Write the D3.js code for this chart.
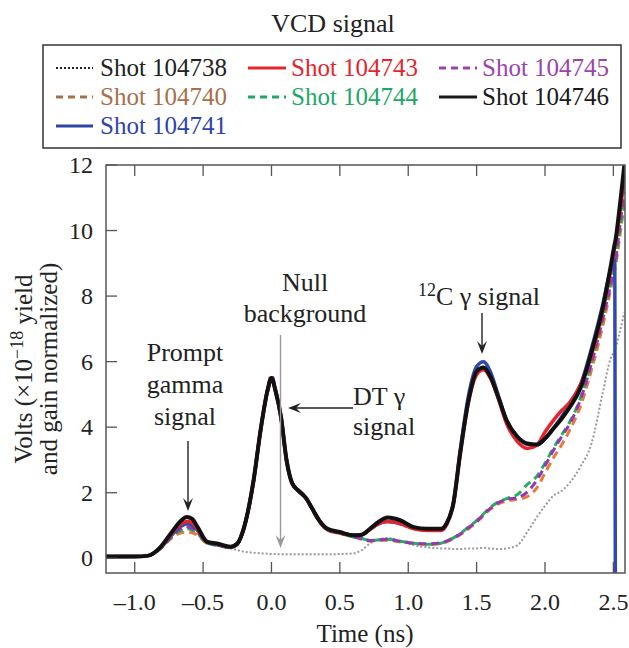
<!DOCTYPE html>
<html>
<head>
<meta charset="utf-8">
<script src="https://cdn.jsdelivr.net/npm/d3@7"></script>
<style>
  body { margin: 0; background: #fff; }
  svg text { font-family: "Liberation Serif", "Times New Roman", serif; fill: #222; }
</style>
</head>
<body>
<svg id="chart" width="629" height="648"></svg>
<script>
// time axis (ns), shared by every shot
const time = [-1.21, -1.0, -0.9, -0.81, -0.72, -0.66, -0.62, -0.58, -0.54, -0.47,
  -0.4, -0.3, -0.25, -0.2, -0.13, -0.08, -0.03, 0.0, 0.03, 0.07,
  0.11, 0.15, 0.2, 0.25, 0.3, 0.35, 0.41, 0.5, 0.6, 0.66,
  0.72, 0.78, 0.85, 0.94, 1.04, 1.14, 1.24, 1.28, 1.33, 1.38,
  1.44, 1.5, 1.55, 1.6, 1.66, 1.72, 1.8, 1.87, 1.94, 2.0,
  2.06, 2.12, 2.18, 2.26, 2.34, 2.42, 2.48, 2.51, 2.515, 2.54, 2.58];

const shot104738 = [0.05, 0.05, 0.08, 0.3, 0.75, 0.95, 1.0, 0.95, 0.8, 0.45,
  0.4, 0.3, 0.25, 0.2, 0.17, 0.15, 0.14, 0.13, 0.13, 0.12,
  0.12, 0.12, 0.12, 0.12, 0.12, 0.12, 0.12, 0.13, 0.15, 0.25,
  0.45, 0.58, 0.62, 0.52, 0.4, 0.33, 0.3, 0.3, 0.28, 0.28,
  0.3, 0.3, 0.32, 0.3, 0.28, 0.3, 0.4, 0.8, 1.25, 1.6,
  1.9, 2.05, 2.3, 2.8, 3.5, 5.0, 6.1, 6.35, 6.4, 6.8, 7.5];

const shot104740 = [0.05, 0.05, 0.08, 0.3, 0.65, 0.78, 0.8, 0.78, 0.7, 0.45,
  0.4, 0.32, 0.42, 0.9, 2.35, 3.85, 5.05, 5.45, 5.05, 4.25,
  2.95, 2.3, 2.05, 1.85, 1.45, 1.1, 0.85, 0.75, 0.65, 0.58,
  0.52, 0.55, 0.55, 0.5, 0.45, 0.42, 0.45, 0.5, 0.6, 0.72,
  0.9, 1.1, 1.3, 1.5, 1.66, 1.75, 1.8, 1.88, 2.15, 2.6,
  3.05, 3.45, 3.9, 4.65, 5.75, 7.05, 8.2, 8.8, 8.9, 9.6, 10.9];

const shot104741 = [0.05, 0.05, 0.08, 0.32, 0.75, 0.98, 1.05, 1.0, 0.85, 0.5,
  0.42, 0.34, 0.44, 0.95, 2.4, 3.9, 5.1, 5.5, 5.1, 4.3,
  3.0, 2.3, 2.05, 1.85, 1.5, 1.15, 0.88, 0.78, 0.7, 0.72,
  0.88, 1.05, 1.12, 1.06, 0.92, 0.87, 0.88, 1.05, 1.7, 3.3,
  4.95, 5.85, 6.0, 5.7, 4.95, 4.2, 3.7, 3.48, 3.45, 3.65,
  3.95, 4.3, 4.7, 5.3, 6.4, 7.7, 8.8, 9.1, -1, -1, -1];

const shot104743 = [0.05, 0.05, 0.08, 0.33, 0.8, 1.05, 1.12, 1.08, 0.88, 0.5,
  0.44, 0.34, 0.44, 0.95, 2.4, 3.9, 5.1, 5.5, 5.1, 4.3,
  3.0, 2.3, 2.05, 1.85, 1.5, 1.15, 0.88, 0.78, 0.7, 0.72,
  0.88, 1.05, 1.12, 1.05, 0.9, 0.85, 0.85, 1.02, 1.65, 3.2,
  4.75, 5.6, 5.75, 5.5, 4.85, 4.1, 3.55, 3.35, 3.45, 3.85,
  4.2, 4.5, 4.75, 5.3, 6.2, 7.5, 8.8, 9.5, 9.6, 10.3, 11.6];

const shot104744 = [0.05, 0.05, 0.08, 0.3, 0.7, 0.85, 0.9, 0.86, 0.75, 0.46,
  0.4, 0.32, 0.42, 0.92, 2.38, 3.88, 5.08, 5.5, 5.08, 4.28,
  2.98, 2.3, 2.05, 1.85, 1.48, 1.12, 0.86, 0.76, 0.65, 0.6,
  0.54, 0.56, 0.58, 0.52, 0.46, 0.43, 0.46, 0.52, 0.62, 0.75,
  0.95, 1.15, 1.35, 1.55, 1.72, 1.82, 1.95, 2.25, 2.5, 2.9,
  3.35, 3.75, 4.15, 4.9, 6.0, 7.3, 8.4, 9.0, 9.1, 9.8, 10.8];

const shot104745 = [0.05, 0.05, 0.08, 0.31, 0.72, 0.9, 0.95, 0.9, 0.78, 0.47,
  0.41, 0.33, 0.43, 0.93, 2.4, 3.92, 5.15, 5.6, 5.15, 4.3,
  3.0, 2.32, 2.08, 1.88, 1.5, 1.13, 0.87, 0.77, 0.66, 0.6,
  0.54, 0.56, 0.58, 0.52, 0.46, 0.44, 0.47, 0.52, 0.62, 0.74,
  0.93, 1.13, 1.33, 1.52, 1.7, 1.8, 1.85, 2.02, 2.38, 2.82,
  3.28, 3.7, 4.1, 4.85, 5.95, 7.25, 8.35, 8.95, 9.05, 9.9, 11.2];

const shot104746 = [0.05, 0.05, 0.08, 0.35, 0.85, 1.15, 1.26, 1.2, 0.95, 0.5,
  0.45, 0.35, 0.45, 0.95, 2.4, 3.9, 5.1, 5.5, 5.1, 4.3,
  3.0, 2.3, 2.05, 1.85, 1.5, 1.15, 0.9, 0.8, 0.7, 0.72,
  0.9, 1.1, 1.24, 1.16, 0.95, 0.9, 0.9, 1.06, 1.67, 3.2,
  4.8, 5.7, 5.82, 5.55, 4.9, 4.2, 3.7, 3.5, 3.47, 3.65,
  3.95, 4.25, 4.6, 5.2, 6.3, 7.6, 8.9, 9.6, 9.7, 10.5, 12.0];

const xTicks = [-1.0, -0.5, 0.0, 0.5, 1.0, 1.5, 2.0, 2.5];
const yTicks = [0, 2, 4, 6, 8, 10, 12];

// drawing order: background traces first, black on top
const series = [
  { name: "Shot 104738", values: shot104738, color: "#9a9a9a", legendColor: "#222", width: 2, dash: "2,2" },
  { name: "Shot 104740", values: shot104740, color: "#e8793e", legendColor: "#a8704a", width: 3, dash: "8,5" },
  { name: "Shot 104744", values: shot104744, color: "#25ad62", legendColor: "#1fa865", width: 3, dash: "8,5" },
  { name: "Shot 104745", values: shot104745, color: "#8e3ab0", legendColor: "#9b44ab", width: 3, dash: "8,5" },
  { name: "Shot 104741", values: shot104741, color: "#2f49b0", legendColor: "#2f45a8", width: 3.5, dash: null },
  { name: "Shot 104743", values: shot104743, color: "#e3262e", legendColor: "#e3262e", width: 3.5, dash: null },
  { name: "Shot 104746", values: shot104746, color: "#111", legendColor: "#1a1a1a", width: 4, dash: null }
];

const legendOrder = [
  ["Shot 104738", "Shot 104743", "Shot 104745"],
  ["Shot 104740", "Shot 104744", "Shot 104746"],
  ["Shot 104741"]
];

const svg = d3.select("#chart");
const margin = { top: 165, right: 4, bottom: 75, left: 106 };
const W = 629, H = 648;

const x = d3.scaleLinear().domain([-1.21, 2.585]).range([margin.left, W - margin.right]);
const y = d3.scaleLinear().domain([-0.45, 12]).range([H - margin.bottom, margin.top]);

svg.append("defs").append("clipPath").attr("id", "plot-clip")
  .append("rect")
  .attr("x", margin.left).attr("y", margin.top)
  .attr("width", W - margin.right - margin.left)
  .attr("height", H - margin.bottom - margin.top);

// title
svg.append("text")
  .attr("x", 333).attr("y", 32)
  .attr("text-anchor", "middle")
  .style("font-size", "26px")
  .text("VCD signal");

// legend
svg.append("rect")
  .attr("x", 43).attr("y", 45).attr("width", 578).attr("height", 103)
  .attr("fill", "none").attr("stroke", "#333").attr("stroke-width", 1.5);

const colX = [[56, 93, 100], [248, 286, 291], [439, 477, 482]];
const rowY = [76, 105, 134];
legendOrder.forEach((row, ri) => {
  row.forEach((name, ci) => {
    const s = series.find(d => d.name === name);
    const g = svg.append("g");
    g.append("line")
      .attr("x1", colX[ci][0]).attr("x2", colX[ci][1])
      .attr("y1", rowY[ri] - 8).attr("y2", rowY[ri] - 8)
      .attr("stroke", s.name === "Shot 104738" ? "#222" : s.legendColor)
      .attr("stroke-width", s.dash === "2,2" ? 2 : 3)
      .attr("stroke-dasharray", s.dash === "2,2" ? "2,2" : (s.dash ? "7,5" : null));
    g.append("text")
      .attr("x", colX[ci][2]).attr("y", rowY[ri])
      .style("font-size", "25px")
      .style("fill", s.legendColor)
      .text(s.name);
  });
});

// curves
const line = d3.line()
  .x(d => x(d[0]))
  .y(d => y(d[1]))
  .curve(d3.curveMonotoneX);

const plot = svg.append("g").attr("clip-path", "url(#plot-clip)");
series.forEach(s => {
  plot.append("path")
    .datum(time.map((t, i) => [t, s.values[i]]))
    .attr("fill", "none")
    .attr("stroke", s.color)
    .attr("stroke-width", s.width)
    .attr("stroke-linejoin", "round")
    .attr("stroke-dasharray", s.dash)
    .attr("d", line);
});

// frame
svg.append("rect")
  .attr("x", margin.left).attr("y", margin.top)
  .attr("width", W - margin.right - margin.left)
  .attr("height", H - margin.bottom - margin.top)
  .attr("fill", "none").attr("stroke", "#555").attr("stroke-width", 1.5);

// inward ticks
const tickLen = 11;
xTicks.forEach(t => {
  svg.append("line").attr("x1", x(t)).attr("x2", x(t))
    .attr("y1", y.range()[0]).attr("y2", y.range()[0] - tickLen)
    .attr("stroke", "#555").attr("stroke-width", 1.3);
  svg.append("line").attr("x1", x(t)).attr("x2", x(t))
    .attr("y1", y.range()[1]).attr("y2", y.range()[1] + tickLen)
    .attr("stroke", "#555").attr("stroke-width", 1.3);
  svg.append("text")
    .attr("x", x(t)).attr("y", 610)
    .attr("text-anchor", "middle")
    .style("font-size", "24px")
    .text(t < 0 ? "\u2013" + Math.abs(t).toFixed(1) : t.toFixed(1));
});
yTicks.forEach(v => {
  svg.append("line").attr("x1", margin.left).attr("x2", margin.left + tickLen)
    .attr("y1", y(v)).attr("y2", y(v))
    .attr("stroke", "#555").attr("stroke-width", 1.3);
  svg.append("text")
    .attr("x", 93).attr("y", y(v) + 8)
    .attr("text-anchor", "end")
    .style("font-size", "24px")
    .text(v);
});

// axis titles
svg.append("text")
  .attr("x", 365).attr("y", 642)
  .attr("text-anchor", "middle")
  .style("font-size", "25px")
  .text("Time (ns)");

const yl1 = svg.append("text")
  .attr("transform", "translate(32,369) rotate(-90)")
  .attr("text-anchor", "middle")
  .style("font-size", "25px");
yl1.append("tspan").text("Volts (\u00d710");
yl1.append("tspan").attr("dy", -9).style("font-size", "18px").text("\u221218");
yl1.append("tspan").attr("dy", 9).text(" yield");

svg.append("text")
  .attr("transform", "translate(57,369) rotate(-90)")
  .attr("text-anchor", "middle")
  .style("font-size", "25px")
  .text("and gain normalized)");

// annotations
function arrow(x1, y1, x2, y2, color) {
  const a = Math.atan2(y2 - y1, x2 - x1);
  const L = 13, w = 5;
  svg.append("line")
    .attr("x1", x1).attr("y1", y1)
    .attr("x2", x2 - Math.cos(a) * 6).attr("y2", y2 - Math.sin(a) * 6)
    .attr("stroke", color).attr("stroke-width", 1.4);
  const bx = x2 - Math.cos(a) * L, by = y2 - Math.sin(a) * L;
  const px = -Math.sin(a) * w, py = Math.cos(a) * w;
  svg.append("path")
    .attr("d", `M${x2},${y2}L${bx + px},${by + py}L${x2 - Math.cos(a) * 8},${y2 - Math.sin(a) * 8}L${bx - px},${by - py}Z`)
    .attr("fill", color);
}

[["Prompt", 361], ["gamma", 393], ["signal", 425]].forEach(([t, yy]) => {
  svg.append("text").attr("x", 185).attr("y", yy)
    .attr("text-anchor", "middle").style("font-size", "26px").text(t);
});
arrow(188, 441, 188, 511, "#222");

[["Null", 291], ["background", 322]].forEach(([t, yy]) => {
  svg.append("text").attr("x", 305).attr("y", yy)
    .attr("text-anchor", "middle").style("font-size", "26px").text(t);
});
arrow(280.5, 335, 280.5, 548, "#999");

svg.append("text").attr("x", 353).attr("y", 405).style("font-size", "26px").text("DT \u03b3");
svg.append("text").attr("x", 353).attr("y", 435).style("font-size", "26px").text("signal");
arrow(353, 408, 288, 408, "#222");

const c12 = svg.append("text").attr("x", 418).attr("y", 305).style("font-size", "26px");
c12.append("tspan").attr("dy", -9).style("font-size", "18px").text("12");
c12.append("tspan").attr("dy", 9).text("C \u03b3 signal");
arrow(482, 313, 482, 354, "#222");
</script>
</body>
</html>
